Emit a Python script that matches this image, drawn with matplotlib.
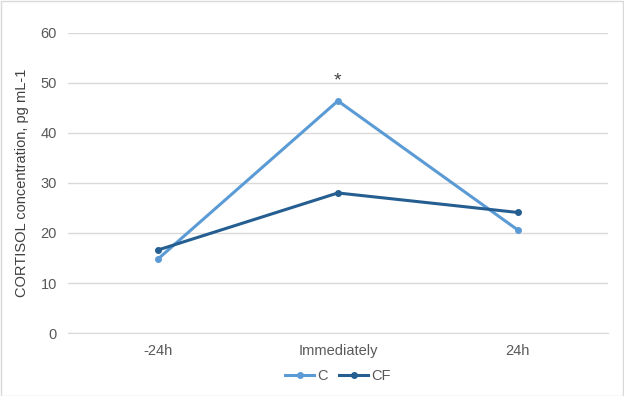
import matplotlib
matplotlib.use("Agg")
import matplotlib.pyplot as plt
from matplotlib.patches import Rectangle

plt.rcParams['font.family'] = ['Liberation Sans', 'DejaVu Sans']

times = ["-24h", "Immediately", "24h"]
c_vals = [14.8, 46.4, 20.6]
cf_vals = [16.6, 28.0, 24.1]
star_y = 50.4

fig = plt.figure(figsize=(6.24, 3.96), dpi=100)
ax = fig.add_axes([0.109, 0.159, 0.865, 0.758])

x = range(len(times))
ax.plot(x, c_vals, color='#5B9BD5', lw=2.2, marker='o', ms=4, label='C')
ax.plot(x, cf_vals, color='#255E91', lw=2.2, marker='o', ms=4, label='CF')
ax.text(1, star_y, '*', ha='center', va='center', fontsize=14, color='#404040')

ax.set_xlim(-0.5, 2.5)
ax.set_ylim(0, 60)
ax.set_yticks(range(0, 61, 10))
ax.set_xticks(list(x))
ax.set_xticklabels(times)
ax.grid(axis='y', color='#D9D9D9', lw=1)
ax.set_axisbelow(True)
for s in ['top', 'right', 'left']:
    ax.spines[s].set_visible(False)
ax.spines['bottom'].set_color('#D9D9D9')
ax.tick_params(length=0, labelsize=10.5, colors='#595959', pad=8)
ax.set_ylabel('CORTISOL concentration, pg mL-1', fontsize=10.5, color='#404040', labelpad=8)

ax.legend(loc='upper center', bbox_to_anchor=(0.5, -0.1), ncol=2, frameon=False,
          fontsize=10.5, labelcolor='#595959', handlelength=2.0, columnspacing=0.8,
          handletextpad=0.2, borderaxespad=0)

fig.patches.append(Rectangle((0.001, 0.001), 0.997, 0.997, transform=fig.transFigure,
                             fill=False, edgecolor='#D9D9D9', lw=1))

fig.savefig('out.png', dpi=100)
